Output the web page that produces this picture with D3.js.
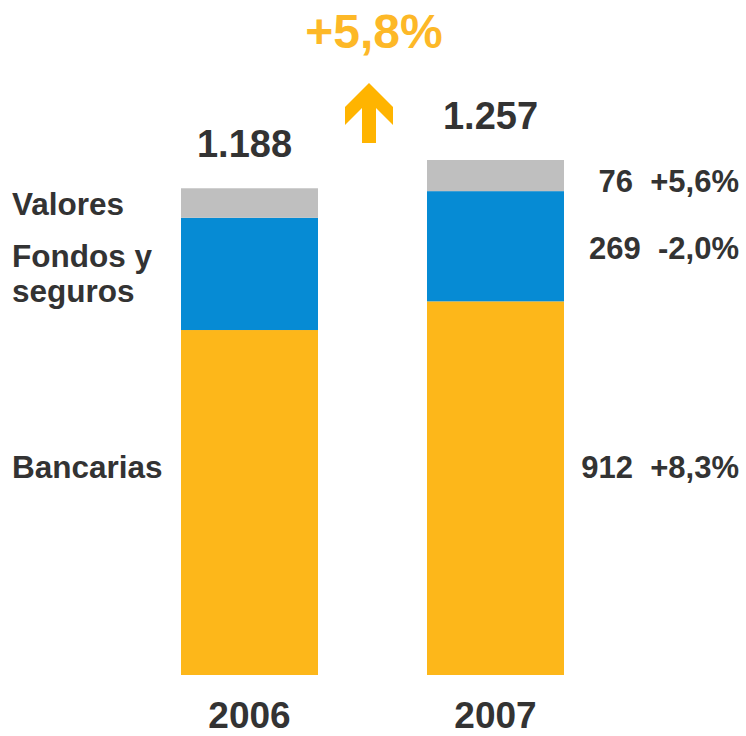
<!DOCTYPE html>
<html>
<head>
<meta charset="utf-8">
<script src="https://cdn.jsdelivr.net/npm/d3@7"></script>
<style>
  html, body { margin: 0; padding: 0; background: #fff; }
  svg { display: block; }
  text { font-family: "Liberation Sans", Arial, sans-serif; font-weight: bold; }
</style>
</head>
<body>
<svg id="chart" width="746" height="736"></svg>
<script>
// ---- Data ----
const years = ["2006", "2007"];
const seriesNames = ["Bancarias", "Fondos y seguros", "Valores"];
const bancarias = [842, 912];
const fondos = [274, 269];
const valores = [72, 76];
const changeLabels = ["+8,3%", "-2,0%", "+5,6%"];
const totalGrowthLabel = "+5,8%";
const leftLabelLines = [["Bancarias"], ["Fondos y", "seguros"], ["Valores"]];

const colors = ["#FDB71A", "#068BD4", "#BFBFBF"];
const textColor = "#333333";

// ---- Build table ----
const rows = years.map((y, i) => ({ year: y, Bancarias: bancarias[i], "Fondos y seguros": fondos[i], Valores: valores[i] }));
const totals = rows.map(r => seriesNames.reduce((s, k) => s + r[k], 0));
const stack = d3.stack().keys(seriesNames)(rows);

const locale = d3.formatLocale({ decimal: ",", thousands: ".", grouping: [3], currency: ["", "€"] });
const fmtInt = locale.format(",d");

const svg = d3.select("#chart");

const x = d3.scaleBand().domain(years).range([181, 564]).paddingInner(0.4431).paddingOuter(0);
const y = d3.scaleLinear().domain([0, d3.max(totals)]).range([675, 160]);

// Bars
svg.append("g").selectAll("g").data(stack).join("g")
  .attr("fill", (d, i) => colors[i])
  .selectAll("rect").data(d => d).join("rect")
  .attr("x", d => x(d.data.year))
  .attr("width", x.bandwidth())
  .attr("y", d => y(d[1]))
  .attr("height", d => y(d[0]) - y(d[1]));

// Year axis
const axis = svg.append("g").attr("transform", "translate(0,675)")
  .call(d3.axisBottom(x).tickSize(0).tickPadding(27));
axis.select(".domain").remove();
axis.selectAll("text")
  .attr("font-size", 37)
  .attr("fill", textColor)
  .style("font-family", '"Liberation Sans", Arial, sans-serif')
  .style("font-weight", "bold");

// Totals above bars
svg.append("g").selectAll("text").data(years).join("text")
  .attr("x", d => x(d) + x.bandwidth() / 2 - 5)
  .attr("y", (d, i) => y(totals[i]) - 31)
  .attr("text-anchor", "middle")
  .attr("font-size", 38)
  .attr("fill", textColor)
  .text((d, i) => fmtInt(totals[i]));

// Left-side series labels (aligned to 2006 segments)
const leftBaselines = [478, 267, 215];
const lg = svg.append("g");
leftLabelLines.forEach((lines, i) => {
  const t = lg.append("text")
    .attr("x", 12)
    .attr("y", leftBaselines[i])
    .attr("font-size", 31.5)
    .attr("fill", textColor);
  lines.forEach((ln, j) => {
    t.append("tspan").attr("x", 12).attr("dy", j === 0 ? 0 : 35).text(ln);
  });
});

// Right-side value + change labels (2007)
const rightBaselines = [478, 259, 192];
svg.append("g").selectAll("text").data(seriesNames).join("text")
  .attr("x", 739)
  .attr("y", (d, i) => rightBaselines[i])
  .attr("text-anchor", "end")
  .attr("font-size", 31)
  .attr("fill", textColor)
  .style("white-space", "pre")
  .attr("xml:space", "preserve")
  .text((d, i) => fmtInt(rows[1][d]) + "\u00a0\u00a0" + changeLabels[i]);

// Growth arrow + label between bars
const mid = (x(years[0]) + x.bandwidth() + x(years[1])) / 2;
const ax = mid - 3.5;
const arrowPts = [
  [0, 83], [24, 107], [24, 125], [7, 108], [7, 143],
  [-7, 143], [-7, 108], [-24, 125], [-24, 107]
];
svg.append("path")
  .attr("d", d3.line()(arrowPts.map(p => [ax + p[0], p[1]])) + "Z")
  .attr("fill", "#FFB400");

svg.append("text")
  .attr("x", mid + 1.5)
  .attr("y", 48)
  .attr("text-anchor", "middle")
  .attr("font-size", 48)
  .attr("fill", "#FDB827")
  .text(totalGrowthLabel);
</script>
</body>
</html>
